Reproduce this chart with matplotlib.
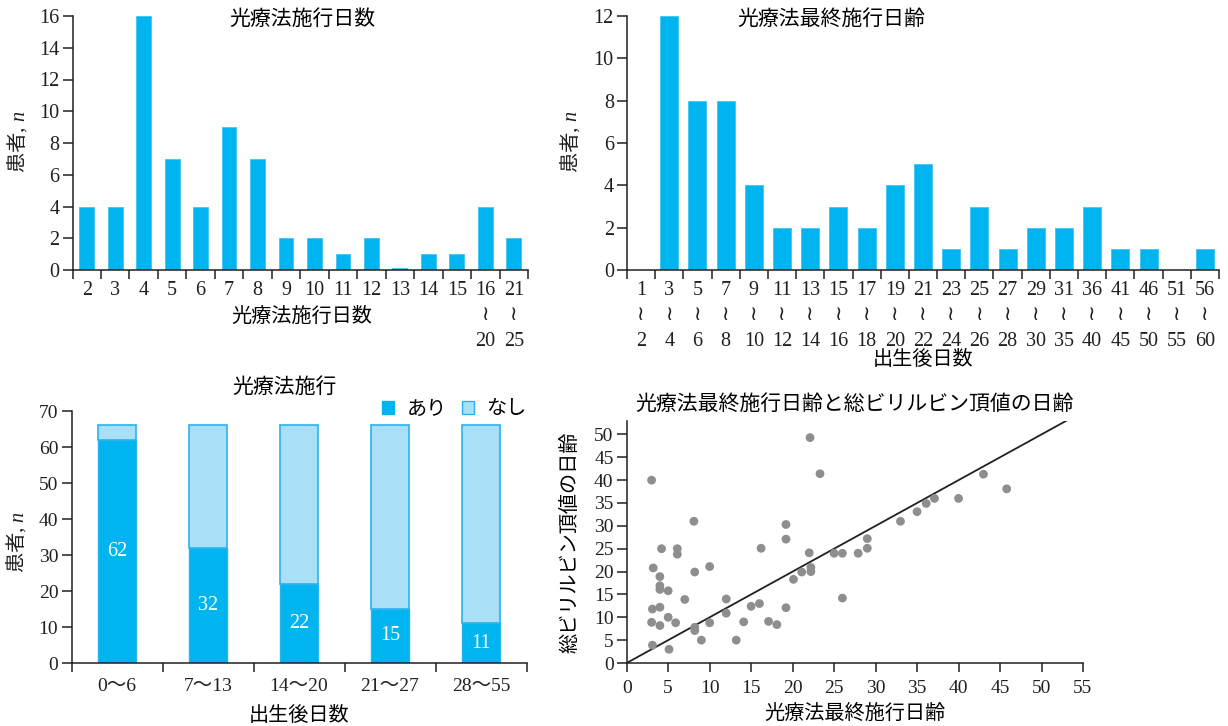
import numpy as np
import matplotlib
matplotlib.use('Agg')
import matplotlib.pyplot as plt
from matplotlib.patches import Patch

plt.rcParams['font.family'] = ['Liberation Serif', 'DejaVu Sans', 'Noto Sans CJK JP']

# 光療法施行日数
days_labels = ['2', '3', '4', '5', '6', '7', '8', '9', '10', '11', '12', '13', '14', '15',
               '16\n≀\n20', '21\n≀\n25']
days_counts = [4, 4, 16, 7, 4, 9, 7, 2, 2, 1, 2, 0.15, 1, 1, 4, 2]

# 光療法最終施行日齢
age_lo = [1, 3, 5, 7, 9, 11, 13, 15, 17, 19, 21, 23, 25, 27, 29, 31, 36, 41, 46, 51, 56]
age_hi = [2, 4, 6, 8, 10, 12, 14, 16, 18, 20, 22, 24, 26, 28, 30, 35, 40, 45, 50, 55, 60]
age_counts = [0, 12, 8, 8, 4, 2, 2, 3, 2, 4, 5, 1, 3, 1, 2, 2, 3, 1, 1, 0, 1]

# 光療法施行 (出生後日数別)
period_labels = ['0～6', '7～13', '14～20', '21～27', '28～55']
treated = [62, 32, 22, 15, 11]
total = 66
untreated = [total - t for t in treated]

# 光療法最終施行日齢 vs 総ビリルビン頂値の日齢
last_day = [3.0, 3.2, 3.1, 3.0, 3.1, 4.2, 4.0, 4.0, 4.0, 4.0, 4.0, 5.0, 5.0, 5.1,
            6.1, 6.1, 5.9, 7.0, 8.1, 8.2, 8.2, 8.2, 9.0, 10.0, 10.0, 12.0, 12.0,
            13.2, 14.1, 15.0, 16.2, 16.0, 17.1, 18.1, 19.2, 19.2, 19.2, 20.1, 21.1,
            22.1, 22.0, 22.2, 22.2, 23.3, 25.0, 26.0, 26.0, 27.9, 29.0, 29.0, 33.0,
            35.0, 36.1, 37.1, 40.0, 43.0, 45.8]
peak_day = [40.0, 20.8, 11.8, 8.9, 3.9, 25.0, 18.9, 16.9, 16.1, 12.2, 8.2, 15.8, 10.0, 3.0,
            25.0, 23.8, 8.8, 13.9, 31.0, 19.9, 7.8, 7.1, 5.0, 21.1, 8.8, 14.0, 10.9,
            5.0, 9.0, 12.4, 25.1, 13.0, 9.1, 8.4, 30.3, 27.1, 12.1, 18.3, 19.9,
            49.3, 24.1, 20.9, 20.0, 41.4, 24.0, 24.0, 14.2, 24.0, 25.1, 27.2, 31.0,
            33.1, 34.9, 36.0, 36.0, 41.3, 38.1]

BLUE = '#00B5EF'
LIGHT = '#AADFF8'
INK = '#231F20'
W, H = 1228, 726
JP = 14.5

fig = plt.figure(figsize=(W / 100, H / 100), dpi=100)


def box(left, right, top, bottom):
    return [left / W, 1 - bottom / H, (right - left) / W, (bottom - top) / H]


def style(ax, size):
    for s in ['top', 'right']:
        ax.spines[s].set_visible(False)
    for s in ['left', 'bottom']:
        ax.spines[s].set_linewidth(1.1)
        ax.spines[s].set_color(INK)
    ax.tick_params(which='both', direction='out', color=INK, width=1.1,
                   labelsize=size, labelcolor=INK)
    ax.tick_params(axis='y', length=7.5, pad=2)


def category_axis(ax, labels, pad):
    n = len(labels)
    ax.set_xlim(-0.5, n - 0.5)
    ax.set_xticks(np.arange(n + 1) - 0.5)
    ax.set_xticklabels([])
    ax.tick_params(axis='x', which='major', length=6.5)
    ax.set_xticks(np.arange(n), minor=True)
    ax.set_xticklabels(labels, minor=True, linespacing=1.45)
    ax.tick_params(axis='x', which='minor', length=0, pad=pad)


def patients_label(ax, x, y):
    # 「患者, n」: n だけイタリック
    t = ax.text(x, y, '患者, ', transform=ax.transAxes, rotation=90,
                ha='center', va='top', fontsize=JP, color=INK)
    ax.annotate('n', xy=(1, 1), xycoords=t, rotation=90, ha='right', va='bottom',
                fontsize=JP, style='italic', family='Liberation Serif', color=INK)


# --- top left
ax1 = fig.add_axes(box(72.5, 528, 16, 270))
style(ax1, 14.5)
ax1.bar(np.arange(len(days_counts)), days_counts, width=0.52, color=BLUE,
        edgecolor='#40C4F2', linewidth=0.6)
category_axis(ax1, days_labels, 8)
ax1.set_ylim(0, 16)
ax1.set_yticks(range(0, 17, 2))
ax1.text(0.504, 0.984, '光療法施行日数', transform=ax1.transAxes, ha='center',
         va='center', fontsize=15)
ax1.set_xlabel('光療法施行日数', fontsize=JP)
ax1.xaxis.set_label_coords(0.504, -0.15)
patients_label(ax1, -0.118, 0.585)

# --- top right
ax2 = fig.add_axes(box(627, 1219, 16, 270))
style(ax2, 14.5)
age_labels = [f'{a}\n≀\n{b}' for a, b in zip(age_lo, age_hi)]
ax2.bar(np.arange(len(age_counts)), age_counts, width=0.64, color=BLUE,
        edgecolor='#40C4F2', linewidth=0.6)
category_axis(ax2, age_labels, 8)
ax2.set_ylim(0, 12)
ax2.set_yticks(range(0, 13, 2))
ax2.text(0.345, 0.984, '光療法最終施行日齢', transform=ax2.transAxes, ha='center',
         va='center', fontsize=15)
ax2.set_xlabel('出生後日数', fontsize=JP)
ax2.xaxis.set_label_coords(0.5, -0.318)
patients_label(ax2, -0.094, 0.585)

# --- bottom left: stacked
ax3 = fig.add_axes(box(71.5, 526.5, 411, 663))
style(ax3, 14)
xp = np.arange(len(period_labels))
ax3.bar(xp, treated, width=0.41, color=BLUE, edgecolor='#29B3EC', linewidth=1.0)
ax3.bar(xp, untreated, bottom=treated, width=0.41, color=LIGHT,
        edgecolor='#29B3EC', linewidth=1.2)
for xi, t in zip(xp, treated):
    ax3.text(xi, t / 2, str(t), ha='center', va='center', color='white', fontsize=14.5)
category_axis(ax3, period_labels, 11)
ax3.set_ylim(0, 70)
ax3.set_yticks(range(0, 71, 10))
ax3.text(0.468, 1.09, '光療法施行', transform=ax3.transAxes, ha='center',
         va='center', fontsize=15)
handles = [Patch(facecolor=BLUE, edgecolor=BLUE, label='あり'),
           Patch(facecolor=LIGHT, edgecolor='#29B3EC', label='なし')]
ax3.legend(handles=handles, loc='center right', bbox_to_anchor=(1.0, 1.004),
           ncol=2, frameon=False, fontsize=JP, handlelength=0.62,
           handleheight=0.62, handletextpad=0.6, columnspacing=0.75, borderpad=0,
           borderaxespad=0)
ax3.set_xlabel('出生後日数', fontsize=JP)
ax3.xaxis.set_label_coords(0.5, -0.175)
patients_label(ax3, -0.118, 0.56)

# --- bottom right: scatter
ax4 = fig.add_axes(box(626.7, 1083, 420.7, 663))
style(ax4, 14)
ax4.scatter(last_day, peak_day, s=40, color='#8E8E90', edgecolors='none', zorder=3)
ax4.plot([0, 53], [0, 53], color=INK, lw=1.3, zorder=2)
ax4.set_xlim(0, 55)
ax4.set_ylim(0, 53)
ax4.set_xticks(range(0, 56, 5))
ax4.set_yticks(range(0, 51, 5))
ax4.tick_params(axis='x', length=6.5, pad=6)
ax4.set_title('光療法最終施行日齢と総ビリルビン頂値の日齢', fontsize=15, pad=8)
ax4.set_xlabel('光療法最終施行日齢', fontsize=JP, labelpad=5)
ax4.set_ylabel('総ビリルビン頂値の日齢', fontsize=JP)
ax4.yaxis.set_label_coords(-0.102, 0.5)

fig.savefig('out.png', dpi=100)
